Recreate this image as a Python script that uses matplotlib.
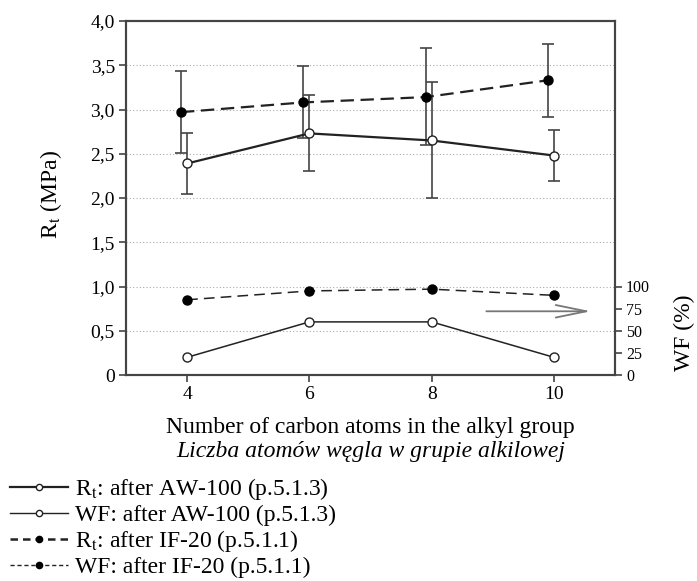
import matplotlib
matplotlib.use('Agg')
import matplotlib.pyplot as plt
from matplotlib.lines import Line2D

plt.rcParams['font.family'] = ['Liberation Serif', 'DejaVu Serif']
plt.rcParams['mathtext.fontset'] = 'stix'

# dane
carbon = [4, 6, 8, 10]

rt_aw = [2.39, 2.73, 2.65, 2.48]
rt_aw_lo = [2.05, 2.30, 2.00, 2.19]
rt_aw_hi = [2.73, 3.16, 3.31, 2.77]

rt_if = [2.97, 3.08, 3.14, 3.33]
rt_if_lo = [2.51, 2.68, 2.60, 2.92]
rt_if_hi = [3.43, 3.49, 3.69, 3.74]

wf_aw = [20, 60, 60, 20]
wf_if = [85, 95, 97, 90]

yticks = [0, 0.5, 1.0, 1.5, 2.0, 2.5, 3.0, 3.5, 4.0]
ytick_labels = ['0', '0,5', '1,0', '1,5', '2,0', '2,5', '3,0', '3,5', '4,0']
wf_ticks = [0, 25, 50, 75, 100]

legend_labels = [r'R$_\mathrm{t}$: after AW-100 (p.5.1.3)',
                 'WF: after AW-100 (p.5.1.3)',
                 r'R$_\mathrm{t}$: after IF-20 (p.5.1.1)',
                 'WF: after IF-20 (p.5.1.1)']

fig = plt.figure(figsize=(6.97, 5.81), dpi=100)
ax = fig.add_axes([126/697, 1 - 375/581, (615-126)/697, (375-21)/581])

dark = '#222222'
ecol = '#444444'

x_if = [c - 0.1 for c in carbon]
err_aw = [[v - l for v, l in zip(rt_aw, rt_aw_lo)], [h - v for v, h in zip(rt_aw, rt_aw_hi)]]
err_if = [[v - l for v, l in zip(rt_if, rt_if_lo)], [h - v for v, h in zip(rt_if, rt_if_hi)]]

ax.errorbar(x_if, rt_if, yerr=err_if, fmt='none', ecolor=ecol, elinewidth=1.2, capsize=4, capthick=1.2, zorder=2)
ax.errorbar(carbon, rt_aw, yerr=err_aw, fmt='none', ecolor=ecol, elinewidth=1.2, capsize=4, capthick=1.2, zorder=2)

ax.plot(x_if, rt_if, color=dark, lw=1.6, ls=(0, (6, 3)), marker='o', ms=6.5,
        mfc='black', mec='black', zorder=3)
ax.plot(carbon, rt_aw, color=dark, lw=1.6, marker='o', ms=6.5,
        mfc='white', mec=dark, mew=1.0, zorder=4)

ax.set_xlim(3, 11)
ax.set_ylim(0, 4)
ax.set_xticks(carbon)
ax.set_yticks(yticks)
ax.set_yticklabels(ytick_labels)
ax.tick_params(direction='out', length=5, width=1.2, color='#444444', labelsize=14)
ax.tick_params(axis='x', pad=3)
ax.tick_params(axis='y', pad=3)
ax.yaxis.grid(True, ls=(0, (1, 2)), color='#aaaaaa', lw=0.8)
ax.set_axisbelow(True)
for s in ax.spines.values():
    s.set_color('#444444')
    s.set_linewidth(1.5)

ax.set_ylabel(r'R$_\mathrm{t}$ (MPa)', fontsize=17, va='center', ha='center')
ax.yaxis.set_label_coords(-(126 - 51) / 489, (375 - 194) / 354)
ax.xaxis.label.set_va('center')
ax.set_xlabel('Number of carbon atoms in the alkyl group', fontsize=17)
ax.xaxis.set_label_coords(0.5, -(428 - 375) / 354)
ax.text(0.5, -(452 - 375) / 354, 'Liczba atomów węgla w grupie alkilowej', transform=ax.transAxes,
        ha='center', va='center', fontsize=17, style='italic')

ax2 = ax.twinx()
ax2.set_ylim(0, 400)
ax2.plot(carbon, wf_if, color=dark, lw=1.1, ls=(0, (7, 4)), marker='o', ms=6.5,
         mfc='black', mec='black', zorder=3)
ax2.plot(carbon, wf_aw, color=dark, lw=1.1, marker='o', ms=6.5,
         mfc='white', mec=dark, mew=1.0, zorder=4)
ax2.set_yticks(wf_ticks)
ax2.tick_params(direction='out', length=5, width=1.2, color='#444444', labelsize=11.5, pad=3)
for s in ax2.spines.values():
    s.set_color('#444444')
    s.set_linewidth(1.5)
ax2.set_ylabel('WF (%)', fontsize=17, rotation=90, va='center', ha='center')
ax2.yaxis.set_label_coords((684 - 126) / 489, (375 - 333) / 354)

# strzałka -> oś prawa
ax2.annotate('', xy=(10.65, 72), xytext=(8.85, 72),
             arrowprops=dict(arrowstyle='->,head_length=2.2,head_width=0.45', color='#777777', lw=1.3))

handles = [
    Line2D([], [], color=dark, lw=1.6, marker='o', ms=4.5, mfc='white', mec=dark),
    Line2D([], [], color=dark, lw=1.0, marker='o', ms=4.5, mfc='white', mec=dark),
    Line2D([], [], color=dark, lw=1.8, ls=(0, (3, 2)), marker='o', ms=4.5, mfc='black', mec='black'),
    Line2D([], [], color=dark, lw=1.0, ls=(0, (3, 2)), marker='o', ms=4.5, mfc='black', mec='black'),
]
fig.legend(handles, legend_labels, loc='upper left', bbox_to_anchor=(10/697, 1 - 476/581),
           frameon=False, fontsize=17, handlelength=2.45, handletextpad=0.3,
           labelspacing=0.1, borderaxespad=0, borderpad=0)

fig.savefig('out.png', dpi=100)
